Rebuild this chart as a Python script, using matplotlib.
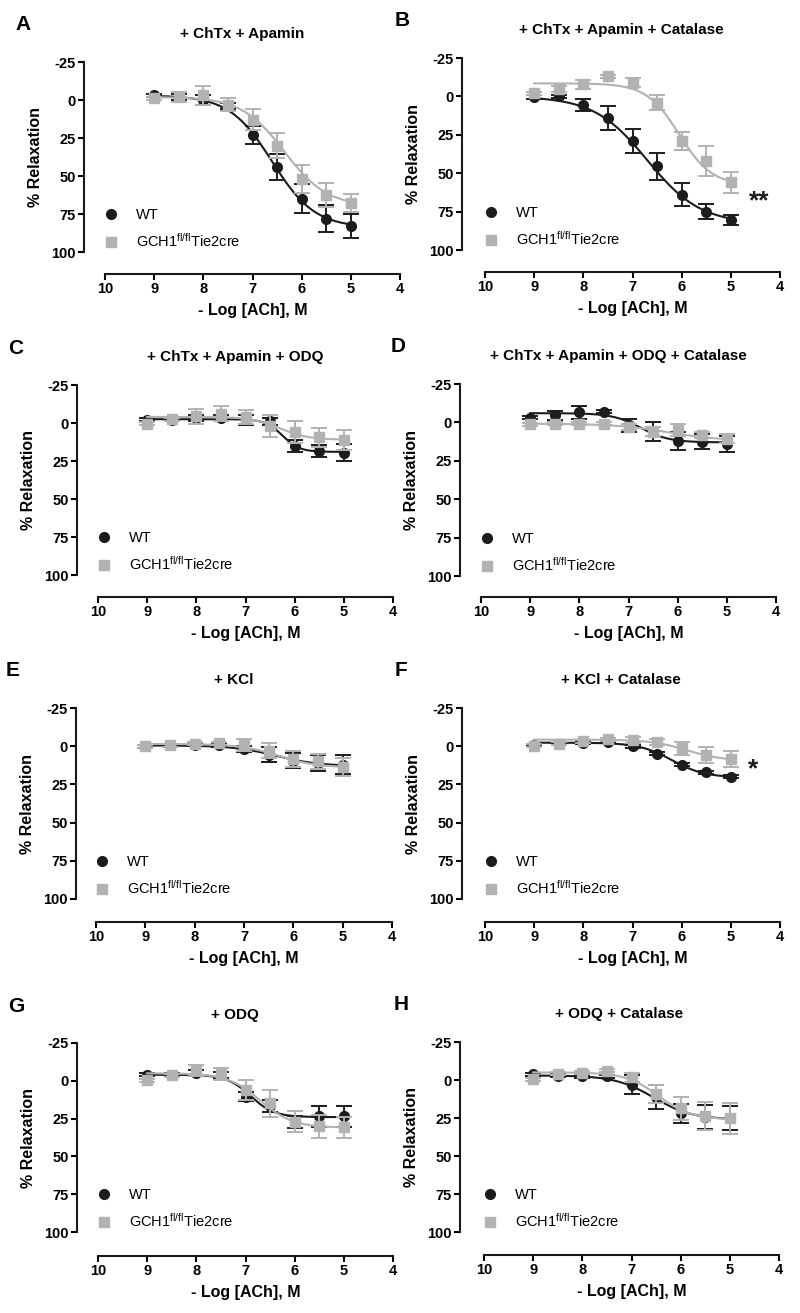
# Concentration-response curves to ACh, WT vs GCH1 fl/fl Tie2cre (panels A-H)
import numpy as np
import matplotlib
matplotlib.use('Agg')
import matplotlib.pyplot as plt
from matplotlib.lines import Line2D

plt.rcParams['font.family'] = ['Liberation Sans', 'DejaVu Sans']
plt.rcParams['mathtext.default'] = 'regular'
plt.rcParams['axes.unicode_minus'] = False

WT_COLOR = '#1c1c1c'
KO_COLOR = '#b2b2b2'

# -log[ACh] values
log_ach = [9, 8.5, 8, 7.5, 7, 6.5, 6, 5.5, 5]

x_ticks = [10, 9, 8, 7, 6, 5, 4]
y_ticks = [-25, 0, 25, 50, 75, 100]

panel_letters = ['A', 'B', 'C', 'D', 'E', 'F', 'G', 'H']
panel_titles = ['+ ChTx + Apamin', '+ ChTx + Apamin + Catalase',
                '+ ChTx + Apamin + ODQ', '+ ChTx + Apamin + ODQ + Catalase',
                '+ KCl', '+ KCl + Catalase',
                '+ ODQ', '+ ODQ + Catalase']
legend_labels = ['WT', 'GCH1$^{fl/fl}$Tie2cre']

# % relaxation, mean and SEM
a_wt = [-3, -2, 0, 4, 23, 44, 65, 78, 83]
a_wt_err = [1, 2, 3, 2, 6, 8.5, 9.5, 9, 8]
a_ko = [-1.3, -2, -3, 3, 13, 30, 52, 62.5, 68]
a_ko_err = [1, 3, 6, 4, 7, 8, 9, 8, 6]

b_wt = [0.4, 0, 5.5, 14, 29, 45.6, 64, 75, 80.5]
b_wt_err = [1, 1, 4, 8, 8, 9, 7.5, 5, 3]
b_ko = [-2, -5, -8, -13, -9, 4, 29, 42, 56]
b_ko_err = [1, 2, 3, 1, 3, 5, 6, 10, 7]

c_wt = [-2, -2, -3, -3, -2, -1, 15, 18.5, 19.5]
c_wt_err = [1, 1, 2, 2, 3, 2, 4, 4, 5.5]
c_ko = [0.5, -2.5, -4.5, -6, -4, 2, 6, 9.5, 11]
c_ko_err = [1, 1, 5, 5, 4.5, 7, 7, 6.5, 6.5]

d_wt = [-3, -4.5, -6.5, -7, 2, 6, 12, 12.5, 14]
d_wt_err = [1, 3, 4, 1, 4, 6, 6, 5, 5]
d_ko = [1.3, 1, 1, 1, 3, 6, 5, 8, 10.5]
d_ko_err = [1, 1, 1, 1, 2, 3, 4, 2, 3]

e_wt = [0, -0.5, -1, -0.5, 2, 5.5, 9.5, 11, 12]
e_wt_err = [1, 1, 1, 1, 2, 5, 5, 5, 6]
e_ko = [0, -0.5, -1.5, -2, -1, 3, 8.3, 10, 13.5]
e_ko_err = [1, 1, 1, 1, 4, 5, 5, 5, 6]

f_wt = [-1, -1.7, -2, -2.5, 0, 4.8, 12.2, 17, 20]
f_wt_err = [0.5, 0.5, 0.5, 0.5, 1, 1, 1, 1, 1]
f_ko = [-0.4, -1.7, -3.3, -4.4, -4, -2.6, 1.5, 5.7, 8.3]
f_ko_err = [1, 1, 1, 1, 2, 2, 4, 5, 5]

g_wt = [-4, -4, -5, -4, 10.5, 16.5, 27, 23.5, 23.5]
g_wt_err = [1, 1, 2, 2, 3, 4, 4, 7, 7]
g_ko = [-0.5, -3.7, -7, -4.4, 6, 15, 27, 30, 30.7]
g_ko_err = [1, 1, 3.5, 4, 6.5, 9, 7, 7.5, 7]

h_wt = [-3.7, -2.8, -2.6, -2.6, 3, 11, 22, 24.5, 25]
h_wt_err = [1, 1, 1, 1, 6, 8, 6.5, 8, 8]
h_ko = [-0.5, -4, -4.8, -6, -1.8, 9, 18.6, 23.6, 25.2]
h_ko_err = [1, 1, 1, 1, 3, 6, 7.5, 9, 10]

# sigmoid fit parameters: top, bottom, -logEC50, hill slope
a_wt_fit = [-3, 84, 6.6, 1.0]
a_ko_fit = [-2, 70, 6.35, 1.0]
b_wt_fit = [0, 83, 6.7, 0.8]
b_ko_fit = [-8.5, 58, 6.05, 1.3]
c_wt_fit = [-2.5, 19, 6.25, 2.5]
c_ko_fit = [-4, 11, 6.3, 1.5]
d_wt_fit = [-6, 13, 6.75, 1.5]
d_ko_fit = [0.8, 12, 6.2, 0.8]
e_wt_fit = [-0.5, 13, 6.35, 1.0]
e_ko_fit = [-1.5, 14, 6.3, 1.1]
f_wt_fit = [-2.3, 20.5, 6.2, 1.3]
f_ko_fit = [-4.3, 9.5, 5.9, 1.2]
g_wt_fit = [-4, 24, 6.9, 1.8]
g_ko_fit = [-5, 31, 6.7, 1.3]
h_wt_fit = [-3, 26, 6.55, 1.1]
h_ko_fit = [-5, 26, 6.45, 1.3]

# significance marks: panel index, text, x, y
sig_marks = [(1, '**', 4.42, 68), (5, '*', 4.55, 15)]

wt_data = [a_wt, b_wt, c_wt, d_wt, e_wt, f_wt, g_wt, h_wt]
wt_errs = [a_wt_err, b_wt_err, c_wt_err, d_wt_err, e_wt_err, f_wt_err, g_wt_err, h_wt_err]
ko_data = [a_ko, b_ko, c_ko, d_ko, e_ko, f_ko, g_ko, h_ko]
ko_errs = [a_ko_err, b_ko_err, c_ko_err, d_ko_err, e_ko_err, f_ko_err, g_ko_err, h_ko_err]
wt_fits = [a_wt_fit, b_wt_fit, c_wt_fit, d_wt_fit, e_wt_fit, f_wt_fit, g_wt_fit, h_wt_fit]
ko_fits = [a_ko_fit, b_ko_fit, c_ko_fit, d_ko_fit, e_ko_fit, f_ko_fit, g_ko_fit, h_ko_fit]

W, H = 800, 1313
# pixel layout per panel: x(10), x(4), y(-25), y(100), y-spine x, x-spine y
layout = [
    (105, 400, 62, 252, 84, 274),
    (485, 780, 58, 250, 462, 272),
    (98, 393, 385, 575, 77, 597),
    (481, 776, 384, 576, 460, 597),
    (96, 392, 708, 899, 76, 922),
    (485, 780, 708, 899, 462, 922),
    (98, 393, 1043, 1232, 77, 1256),
    (484, 779, 1042, 1232, 460, 1255),
]


def sigmoid(x, p):
    top, bottom, x50, hill = p
    return top + (bottom - top) / (1 + 10 ** ((x - x50) * hill))


def draw_series(ax, y, err, fit, color, marker, ms, z):
    ax.errorbar(log_ach, y, yerr=err, fmt=marker, color=color, ms=ms,
                elinewidth=1.4, capsize=5.5, capthick=1.4, zorder=z, clip_on=False)
    xs = np.linspace(log_ach[0], log_ach[-1], 200)
    ax.plot(xs, sigmoid(xs, fit), color=color, lw=1.5, zorder=z - 1)


fig = plt.figure(figsize=(W / 100, H / 100), dpi=100)

for i, (x10, x4, ytop, ybot, yspine, xspine) in enumerate(layout):
    ax = fig.add_axes([x10 / W, 1 - ybot / H, (x4 - x10) / W, (ybot - ytop) / H])
    ax.set_xlim(10, 4)
    ax.set_ylim(100, -25)
    for s in ['top', 'right']:
        ax.spines[s].set_visible(False)
    ax.spines['left'].set_position(('outward', (x10 - yspine) * 0.72))
    ax.spines['bottom'].set_position(('outward', (xspine - ybot) * 0.72))
    for s in ['left', 'bottom']:
        ax.spines[s].set_linewidth(1.5)
        ax.spines[s].set_color('#1a1a1a')
    ax.set_xticks(x_ticks)
    ax.set_yticks(y_ticks)
    ax.tick_params(direction='out', length=4, width=1.5, labelsize=10.5, pad=2)
    for lab in ax.get_xticklabels() + ax.get_yticklabels():
        lab.set_fontweight('bold')
    ax.set_ylabel('% Relaxation', fontsize=11.5, fontweight='bold', labelpad=6)
    ax.set_xlabel('- Log [ACh], M', fontsize=11.5, fontweight='bold', labelpad=5)
    ax.patch.set_alpha(0)

    draw_series(ax, wt_data[i], wt_errs[i], wt_fits[i], WT_COLOR, 'o', 7, 4)
    draw_series(ax, ko_data[i], ko_errs[i], ko_fits[i], KO_COLOR, 's', 6.5, 6)

    handles = [Line2D([], [], marker='o', ls='none', color=WT_COLOR, ms=7),
               Line2D([], [], marker='s', ls='none', color=KO_COLOR, ms=7)]
    ax.legend(handles, legend_labels, loc='lower left', bbox_to_anchor=(0.0, 0.01),
              frameon=False, borderaxespad=0, borderpad=0, handlelength=0.8,
              handletextpad=1.3, labelspacing=0.7, fontsize=10.5)

    # panel letter and title
    fig.text((x10 - 90) / W, 1 - (ytop - 37) / H, panel_letters[i],
             fontsize=15, fontweight='bold', ha='left', va='center')
    fig.text((yspine + x4) / 2 / W, 1 - (ytop - 28) / H, panel_titles[i],
             fontsize=11, fontweight='bold', ha='center', va='center')

for idx, txt, sx, sy in sig_marks:
    fig.axes[idx].text(sx, sy, txt, fontsize=19, fontweight='bold', ha='center',
                       va='center', color='#1c1c1c', clip_on=False)

fig.savefig('out.png', dpi=100)
